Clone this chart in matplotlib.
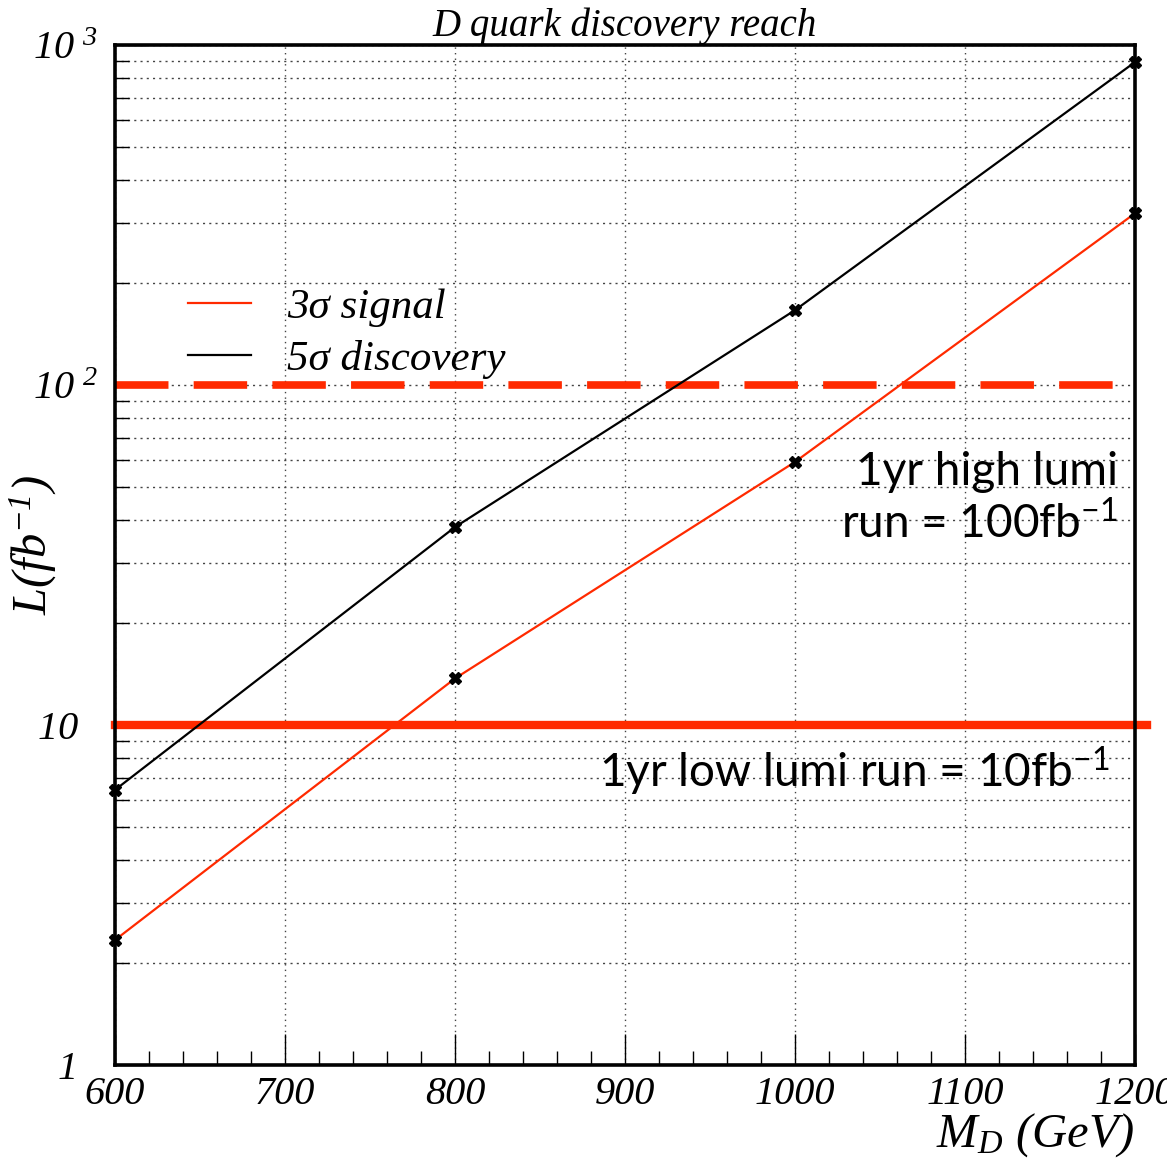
import matplotlib
matplotlib.use("Agg")
import matplotlib.pyplot as plt
from matplotlib.ticker import FixedLocator, FixedFormatter, MultipleLocator, LogLocator, NullFormatter

plt.rcParams['mathtext.default'] = 'regular'

# data
mass = [600, 800, 1000, 1200]
lumi_3sigma = [2.33, 13.7, 59.4, 320]
lumi_5sigma = [6.44, 38.2, 166, 891]
low_lumi_run = 10
high_lumi_run = 100

x_ticks = [600, 700, 800, 900, 1000, 1100, 1200]
y_ticks = [1, 10, 100, 1000]
y_tick_labels = ['1\u2002', '10\u2002', '10$^{\\ 2}$', '10$^{\\ 3}$']

serif = dict(family='Liberation Serif', style='italic')
sans = dict(family='Lato')
red = '#ff2a00'

fig = plt.figure(figsize=(11.67, 11.64), dpi=100)
ax = fig.add_axes([0.0985, 0.0851, 0.8741, 0.8762])

ax.set_yscale('log')
ax.set_xlim(600, 1200)
ax.set_ylim(1, 1000)

# grid
ax.xaxis.set_major_locator(FixedLocator(x_ticks))
ax.xaxis.set_minor_locator(MultipleLocator(20))
ax.yaxis.set_major_locator(FixedLocator(y_ticks))
ax.yaxis.set_minor_locator(LogLocator(base=10, subs=range(2, 10)))
ax.yaxis.set_minor_formatter(NullFormatter())
ax.grid(True, which='major', axis='x', color='#444444', linestyle=(0, (1, 3)), linewidth=1)
ax.grid(True, which='both', axis='y', color='#444444', linestyle=(0, (1.5, 3)), linewidth=1)

ax.tick_params(which='both', direction='in', top=False, right=False, width=1)
ax.tick_params(which='major', axis='x', length=22)
ax.tick_params(which='minor', axis='x', length=10)
ax.tick_params(which='major', axis='y', length=22, pad=12)
ax.tick_params(which='minor', axis='y', length=10)
ax.tick_params(axis='x', pad=8)

ax.yaxis.set_major_formatter(FixedFormatter(y_tick_labels))
for lab in ax.get_xticklabels() + ax.get_yticklabels():
    lab.set_fontfamily('Liberation Serif')
    lab.set_fontstyle('italic')
    lab.set_fontsize(29)

for sp in ax.spines.values():
    sp.set_linewidth(2.6)

# reference luminosity lines
ax.axhline(low_lumi_run, xmin=0, xmax=1.012, color=red, linewidth=6, clip_on=False)
ax.axhline(high_lumi_run, xmin=0, xmax=0.99, color=red, linewidth=5.5, linestyle=(0, (7, 3.3)))

# curves
ax.plot(mass, lumi_3sigma, color=red, linewidth=1.6, label='3σ signal', zorder=3)
ax.plot(mass, lumi_5sigma, color='black', linewidth=1.6, label='5σ discovery', zorder=3)
ax.plot(mass, lumi_3sigma, linestyle='none', marker='X', markersize=9, color='black', zorder=4, clip_on=False)
ax.plot(mass, lumi_5sigma, linestyle='none', marker='X', markersize=9, color='black', zorder=4, clip_on=False)

leg = ax.legend(loc='upper left', bbox_to_anchor=(0.034, 0.8), frameon=False,
                handlelength=1.45, handletextpad=0.85, labelspacing=0.3,
                prop=dict(family='Liberation Serif', style='italic', size=31))

ax.text(0.983, 0.555, '1yr high lumi\nrun = 100fb$^{-1}$', transform=ax.transAxes,
        ha='right', va='center', fontsize=33, linespacing=1.2, **sans)
ax.text(0.975, 0.288, '1yr low lumi run = 10fb$^{-1}$', transform=ax.transAxes,
        ha='right', va='center', fontsize=33, **sans)

ax.set_title('D quark discovery reach', fontsize=28, pad=1, **serif)
ax.set_xlabel('M$_{D}$ (GeV)', fontsize=35, **serif)
ax.xaxis.set_label_coords(1.0, -0.045)
ax.xaxis.label.set_horizontalalignment('right')
ax.xaxis.label.set_verticalalignment('top')
ax.set_ylabel('L(fb$^{-1}$)', fontsize=35, **serif)
ax.yaxis.set_label_coords(-0.055, 0.51)

fig.savefig('out.png', dpi=100)
